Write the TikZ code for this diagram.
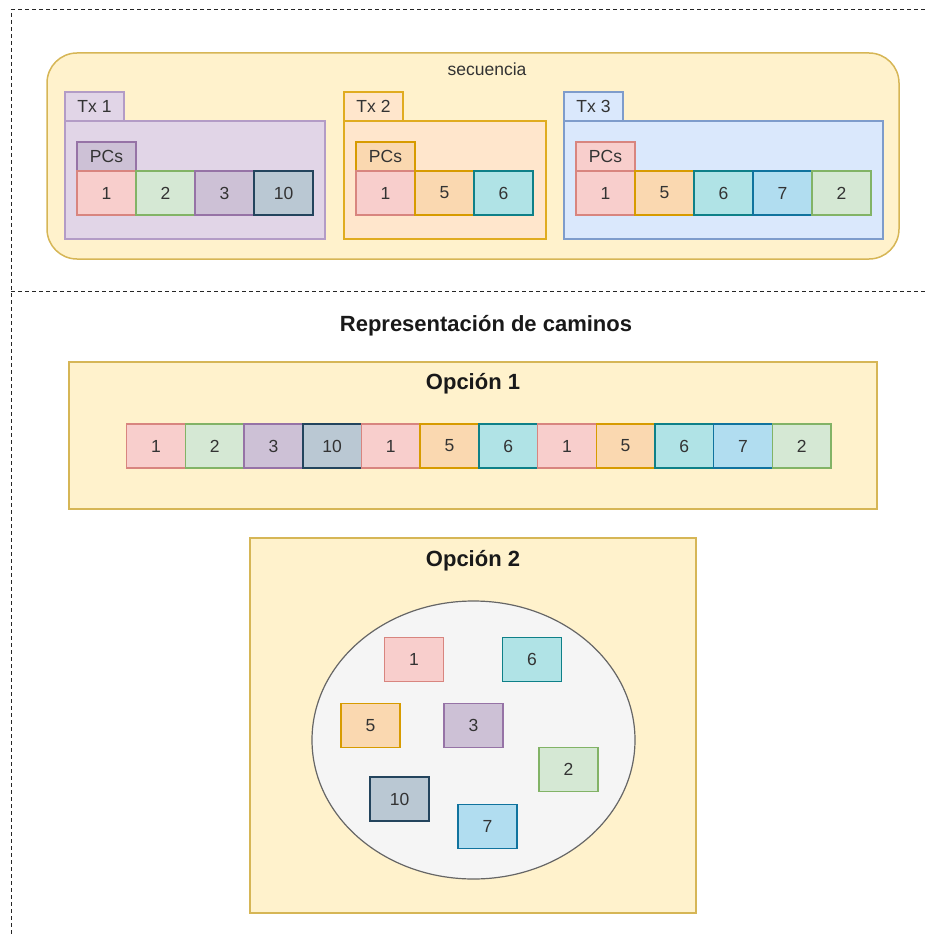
\documentclass[tikz,border=0pt]{standalone}
\usepackage{fontspec}
\setmainfont{Liberation Sans}
\usetikzlibrary{positioning}

% palette
\definecolor{redF}{HTML}{F8CECC}\definecolor{redS}{HTML}{D8857F}
\definecolor{grnF}{HTML}{D5E8D4}\definecolor{grnS}{HTML}{82B366}
\definecolor{purF}{HTML}{CDC1D6}\definecolor{purS}{HTML}{9673A6}
\definecolor{slaF}{HTML}{BAC8D3}\definecolor{slaS}{HTML}{23445D}
\definecolor{orgF}{HTML}{FAD8B0}\definecolor{orgS}{HTML}{D79B00}
\definecolor{tealF}{HTML}{B0E3E6}\definecolor{tealS}{HTML}{0E8088}
\definecolor{bluF}{HTML}{B1DDF0}\definecolor{bluS}{HTML}{10739E}
\definecolor{lilF}{HTML}{E1D5E7}\definecolor{lilS}{HTML}{B39CC6}
\definecolor{peaF}{HTML}{FFE6CC}\definecolor{peaS}{HTML}{E0AC20}
\definecolor{skyF}{HTML}{DAE8FC}\definecolor{skyS}{HTML}{7E9CCB}
\definecolor{yelF}{HTML}{FFF2CC}\definecolor{yelS}{HTML}{D6B656}
\definecolor{grayF}{HTML}{F5F5F5}\definecolor{grayS}{HTML}{666666}
\definecolor{txt}{HTML}{333333}

\tikzset{
  cell/.style={draw, minimum width=58.7pt, minimum height=44pt, inner sep=0pt,
    line width=1.5pt, text=txt, font=\fontsize{17.5}{17.5}\selectfont},
  cred/.style={cell, fill=redF, draw=redS},
  cgrn/.style={cell, fill=grnF, draw=grnS},
  cpur/.style={cell, fill=purF, draw=purS},
  csla/.style={cell, fill=slaF, draw=slaS, line width=1.8pt},
  corg/.style={cell, fill=orgF, draw=orgS},
  cteal/.style={cell, fill=tealF, draw=tealS},
  cblu/.style={cell, fill=bluF, draw=bluS},
  tabbox/.style={draw, minimum width=59pt, minimum height=29pt, inner sep=0pt,
    line width=1.5pt, text=txt, font=\fontsize{17.5}{17.5}\selectfont},
  panel/.style={draw, line width=1.5pt},
  title/.style={font=\bfseries\fontsize{22}{22}\selectfont, text=black!90},
  sep/.style={dashed, dash pattern=on 4pt off 3pt, line width=1pt, black!85}
}

\begin{document}
\begin{tikzpicture}[x=1pt, y=-1pt]
\useasboundingbox (0,0) rectangle (925,936);

% dashed frame lines
\coordinate (tl) at (11,10);
\coordinate (tr) at (925,10);
\coordinate (ml) at (11,291);
\coordinate (mr) at (925,291);
\coordinate (bl) at (11,936);
\draw[sep] (tr) -- (tl) -- (bl);
\draw[sep] (ml) -- (mr);

% sequence container
\node[panel, fill=yelF, draw=yelS, rounded corners=30pt, minimum width=852pt,
      minimum height=206pt, inner sep=0pt] (seq) at (473,156) {};
\node[text=txt, font=\fontsize{17.5}{17.5}\selectfont] (seqlbl) at (487,69) {secuencia};

% Tx 1
\node[panel, fill=lilF, draw=lilS, minimum width=260pt, minimum height=118pt, inner sep=0pt] (tx1) at (195,180) {};
\node[tabbox, fill=lilF, draw=lilS] (tx1tab) at (94.5,106.5) {Tx 1};
\node[tabbox, fill=purF, draw=purS] (tx1pc) at (106.5,156.5) {PCs};
\node[cred] (a1) at (106.5,193) {1};
\node[cgrn] (a2) at (165.5,193) {2};
\node[cpur] (a3) at (224.5,193) {3};
\node[csla] (a4) at (283.5,193) {10};

% Tx 2
\node[panel, fill=peaF, draw=peaS, minimum width=202pt, minimum height=118pt, inner sep=0pt] (tx2) at (445,180) {};
\node[tabbox, fill=peaF, draw=peaS] (tx2tab) at (373.5,106.5) {Tx 2};
\node[tabbox, fill=orgF, draw=orgS] (tx2pc) at (385.5,156.5) {PCs};
\node[cred] (b1) at (385.5,193) {1};
\node[corg] (b2) at (444.5,193) {5};
\node[cteal] (b3) at (503.5,193) {6};

% Tx 3
\node[panel, fill=skyF, draw=skyS, minimum width=319pt, minimum height=118pt, inner sep=0pt] (tx3) at (723.5,180) {};
\node[tabbox, fill=skyF, draw=skyS] (tx3tab) at (593.5,106.5) {Tx 3};
\node[tabbox, fill=redF, draw=redS] (tx3pc) at (605.5,156.5) {PCs};
\node[cred] (c1) at (605.5,193) {1};
\node[corg] (c2) at (664.5,193) {5};
\node[cteal] (c3) at (723.5,193) {6};
\node[cblu] (c4) at (782.5,193) {7};
\node[cgrn] (c5) at (841.5,193) {2};

% representation heading
\node[title] (rep) at (486,326) {Representación de caminos};

% option 1: flat sequence
\node[panel, fill=yelF, draw=yelS, minimum width=808pt, minimum height=147pt, inner sep=0pt] (op1) at (473,435.5) {};
\node[title] (op1lbl) at (473,384) {Opción 1};
\node[cred]  (o1)  at (156.0,446) {1};
\node[cgrn]  (o2)  at (214.7,446) {2};
\node[cpur]  (o3)  at (273.4,446) {3};
\node[csla]  (o4)  at (332.1,446) {10};
\node[cred]  (o5)  at (390.8,446) {1};
\node[corg]  (o6)  at (449.5,446) {5};
\node[cteal] (o7)  at (508.2,446) {6};
\node[cred]  (o8)  at (566.9,446) {1};
\node[corg]  (o9)  at (625.6,446) {5};
\node[cteal] (o10) at (684.3,446) {6};
\node[cblu]  (o11) at (743.0,446) {7};
\node[cgrn]  (o12) at (801.7,446) {2};

% option 2: set of PCs
\node[panel, fill=yelF, draw=yelS, minimum width=446pt, minimum height=375pt, inner sep=0pt] (op2) at (473,725.5) {};
\node[title] (op2lbl) at (473,561) {Opción 2};
\draw[fill=grayF, draw=grayS, line width=1.2pt] (473.5,740) ellipse [x radius=161.5, y radius=139];
\node[cred]  (e1) at (414,659.5) {1};
\node[cteal] (e2) at (532,659.5) {6};
\node[corg]  (e3) at (370.5,725.5) {5};
\node[cpur]  (e4) at (473.5,725.5) {3};
\node[cgrn]  (e5) at (568.5,769.5) {2};
\node[csla]  (e6) at (399.5,799) {10};
\node[cblu]  (e7) at (487.5,826.5) {7};
\end{tikzpicture}
\end{document}
